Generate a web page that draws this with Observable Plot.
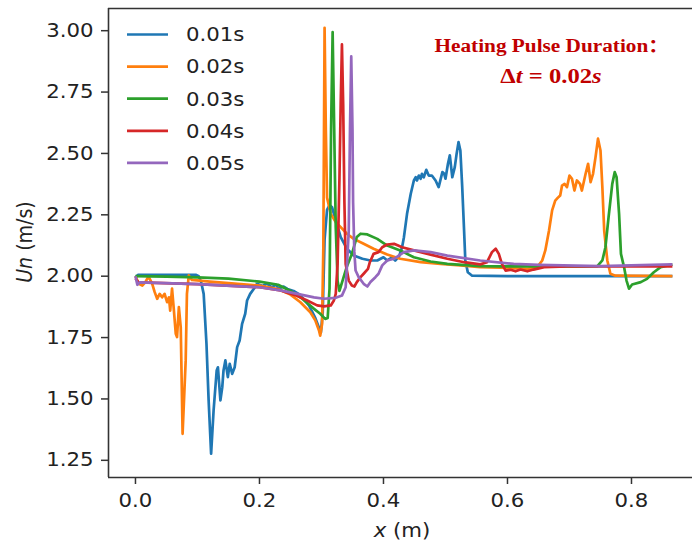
<!DOCTYPE html>
<html>
<head>
<meta charset="utf-8">
<script src="https://cdn.jsdelivr.net/npm/d3@7"></script>
<script src="https://cdn.jsdelivr.net/npm/@observablehq/plot@0.6"></script>
<style>
  html, body { margin: 0; padding: 0; background: #fff; }
  #chart { width: 692px; height: 544px; }
</style>
</head>
<body>
<div id="chart"></div>
<script>
// Normal velocity profiles Un(x) at five instants after a heating pulse
const seriesNames = ["0.01s", "0.02s", "0.03s", "0.04s", "0.05s"];
const seriesColors = ["#1f77b4", "#ff7f0e", "#2ca02c", "#d62728", "#9467bd"];

const xTicks = [0.0, 0.2, 0.4, 0.6, 0.8];
const yTicks = [1.25, 1.50, 1.75, 2.00, 2.25, 2.50, 2.75, 3.00];

// [x (m), Un (m/s)]
const un001 = [[0,1.995],[0.004,2.005],[0.05,2.005],[0.098,2.005],[0.102,2.0],[0.106,1.975],[0.110,1.928],[0.1145,1.726],[0.118,1.494],[0.122,1.277],[0.126,1.453],[0.131,1.616],[0.133,1.629],[0.137,1.494],[0.140,1.548],[0.142,1.616],[0.145,1.657],[0.149,1.589],[0.152,1.643],[0.156,1.602],[0.160,1.629],[0.164,1.711],[0.168,1.738],[0.172,1.806],[0.177,1.847],[0.180,1.901],[0.185,1.928],[0.191,1.949],[0.196,1.969],[0.205,1.96],[0.212,1.97],[0.220,1.955],[0.226,1.966],[0.231,1.95],[0.239,1.958],[0.245,1.948],[0.255,1.94],[0.265,1.925],[0.28,1.88],[0.29,1.83],[0.296,1.79],[0.299,1.77],[0.302,1.85],[0.305,2.15],[0.309,2.27],[0.313,2.29],[0.317,2.281],[0.323,2.227],[0.331,2.159],[0.341,2.112],[0.352,2.084],[0.366,2.071],[0.379,2.064],[0.390,2.064],[0.400,2.077],[0.406,2.064],[0.414,2.077],[0.419,2.064],[0.425,2.08],[0.430,2.118],[0.433,2.159],[0.438,2.254],[0.444,2.336],[0.449,2.39],[0.452,2.403],[0.454,2.39],[0.457,2.410],[0.460,2.397],[0.462,2.417],[0.465,2.403],[0.469,2.433],[0.473,2.41],[0.478,2.41],[0.484,2.39],[0.489,2.363],[0.495,2.424],[0.498,2.417],[0.500,2.397],[0.504,2.458],[0.507,2.492],[0.511,2.403],[0.515,2.444],[0.518,2.499],[0.521,2.546],[0.524,2.512],[0.527,2.363],[0.530,2.186],[0.532,2.064],[0.536,2.016],[0.543,2.002],[0.6,2.0],[0.7,2.0],[0.866,2.0]];

const un002 = [[0,2.0],[0.0054,1.969],[0.011,1.962],[0.016,1.976],[0.021,1.999],[0.027,1.969],[0.031,1.935],[0.035,1.908],[0.039,1.928],[0.043,1.914],[0.047,1.928],[0.051,1.894],[0.054,1.914],[0.056,1.860],[0.059,1.949],[0.062,1.860],[0.065,1.765],[0.067,1.752],[0.070,1.874],[0.073,1.792],[0.076,1.358],[0.081,1.657],[0.083,1.928],[0.086,2.003],[0.091,1.985],[0.12,1.978],[0.15,1.972],[0.2,1.962],[0.23,1.948],[0.25,1.925],[0.266,1.894],[0.282,1.853],[0.29,1.82],[0.296,1.779],[0.298,1.758],[0.301,1.806],[0.303,2.118],[0.305,3.012],[0.307,2.6],[0.309,2.32],[0.315,2.254],[0.323,2.22],[0.331,2.2],[0.341,2.173],[0.352,2.152],[0.368,2.132],[0.384,2.112],[0.406,2.088],[0.427,2.071],[0.460,2.057],[0.492,2.050],[0.524,2.044],[0.556,2.037],[0.589,2.035],[0.632,2.030],[0.648,2.037],[0.656,2.064],[0.661,2.105],[0.667,2.186],[0.672,2.268],[0.677,2.308],[0.681,2.319],[0.685,2.329],[0.688,2.369],[0.692,2.376],[0.696,2.363],[0.700,2.410],[0.704,2.397],[0.708,2.349],[0.712,2.390],[0.717,2.376],[0.720,2.349],[0.726,2.417],[0.730,2.458],[0.734,2.383],[0.738,2.417],[0.742,2.485],[0.746,2.560],[0.750,2.512],[0.753,2.363],[0.756,2.186],[0.761,2.064],[0.766,2.010],[0.774,2.002],[0.866,2.0]];

const un003 = [[0,2.0],[0.05,1.998],[0.1,1.995],[0.15,1.99],[0.2,1.978],[0.23,1.965],[0.25,1.94],[0.266,1.914],[0.288,1.867],[0.298,1.847],[0.306,1.826],[0.310,1.83],[0.313,1.95],[0.3155,2.6],[0.318,2.994],[0.3205,2.6],[0.323,2.2],[0.326,1.98],[0.329,1.94],[0.341,2.04],[0.349,2.09],[0.357,2.16],[0.363,2.173],[0.374,2.170],[0.390,2.152],[0.406,2.125],[0.427,2.105],[0.449,2.077],[0.476,2.06],[0.503,2.050],[0.556,2.041],[0.589,2.040],[0.642,2.040],[0.723,2.040],[0.745,2.041],[0.753,2.064],[0.758,2.118],[0.763,2.240],[0.769,2.376],[0.773,2.424],[0.776,2.403],[0.780,2.254],[0.783,2.091],[0.788,2.037],[0.792,1.982],[0.796,1.949],[0.801,1.966],[0.815,1.976],[0.825,1.989],[0.836,2.016],[0.847,2.037],[0.866,2.048]];

const un004 = [[0,1.99],[0.005,1.975],[0.1,1.968],[0.2,1.955],[0.234,1.942],[0.26,1.92],[0.277,1.901],[0.293,1.881],[0.304,1.877],[0.315,1.881],[0.320,1.901],[0.323,1.928],[0.326,2.05],[0.329,2.4],[0.331,2.7],[0.333,2.944],[0.335,2.7],[0.337,2.3],[0.339,2.05],[0.344,1.982],[0.349,1.962],[0.353,1.958],[0.357,1.976],[0.363,1.996],[0.368,2.010],[0.375,2.030],[0.378,2.057],[0.384,2.091],[0.392,2.098],[0.398,2.118],[0.406,2.129],[0.417,2.132],[0.430,2.118],[0.449,2.105],[0.476,2.088],[0.503,2.071],[0.530,2.057],[0.556,2.048],[0.567,2.057],[0.575,2.098],[0.581,2.112],[0.586,2.091],[0.591,2.050],[0.597,2.023],[0.605,2.026],[0.613,2.020],[0.621,2.027],[0.632,2.020],[0.642,2.027],[0.659,2.037],[0.696,2.040],[0.866,2.04]];

const un005 = [[0,2.0],[0.003,1.965],[0.007,1.975],[0.1,1.968],[0.2,1.955],[0.234,1.942],[0.261,1.928],[0.288,1.914],[0.304,1.908],[0.323,1.912],[0.333,1.921],[0.339,1.955],[0.341,2.037],[0.344,2.186],[0.346,2.6],[0.348,2.895],[0.350,2.6],[0.351,2.3],[0.353,2.1],[0.355,2.023],[0.360,1.996],[0.368,1.969],[0.374,1.958],[0.379,1.976],[0.387,1.996],[0.392,2.010],[0.398,2.044],[0.406,2.064],[0.417,2.071],[0.433,2.098],[0.449,2.105],[0.476,2.098],[0.503,2.084],[0.556,2.064],[0.610,2.050],[0.65,2.046],[0.75,2.041],[0.866,2.048]];

const profiles = [un001, un002, un003, un004, un005];

// Long-format table for Plot
const rows = profiles.flatMap((pts, i) =>
  pts.map(([x, u]) => ({series: seriesNames[i], x, u}))
);

// Axis limits (the right spine falls just outside the figure)
const xDomain = [-0.0435, 0.8984];
const yDomain = [1.18, 3.0904];

const axisInk = "#333";
const font = "DejaVu Sans, sans-serif";
const textStretch = 1.12;   // glyphs are set slightly wide

const chart = Plot.plot({
  width: 692,
  height: 544,
  marginLeft: 108,
  marginRight: 0,
  marginTop: 8,
  marginBottom: 67,
  style: {fontFamily: font, fontSize: "19px", color: "#222", background: "#fff"},
  x: {domain: xDomain},
  y: {domain: yDomain},
  color: {domain: seriesNames, range: seriesColors},
  marks: [
    Plot.line(rows, {
      x: "x", y: "u", z: "series", stroke: "series",
      strokeWidth: 2.7, strokeLinejoin: "round", strokeLinecap: "butt", curve: "linear"
    }),
    Plot.ruleX([xDomain[0]], {stroke: axisInk, strokeWidth: 1.6}),
    Plot.ruleY(yDomain, {stroke: axisInk, strokeWidth: 1.6}),
    Plot.axisX({ticks: xTicks, tickFormat: d3.format(".1f"), tickSize: 7, tickPadding: 9,
                stroke: axisInk, strokeWidth: 1.5, label: null, fontSize: 19}),
    Plot.axisY({ticks: yTicks, tickFormat: d3.format(".2f"), tickSize: 7, tickPadding: 8,
                stroke: axisInk, strokeWidth: 1.5, label: null, fontSize: 19})
  ]
});

document.getElementById("chart").appendChild(chart);

// Widen a text element horizontally about its own anchor (its x attribute)
function widen(node, k = textStretch) {
  const x = parseFloat(node.getAttribute("x"));
  const ax = Number.isFinite(x) ? x : 0;
  const t = node.getAttribute("transform") || "";
  node.setAttribute("transform",
    `${t} translate(${ax},0) scale(${k},1) translate(${-ax},0)`);
}
chart.querySelectorAll("text").forEach(n => widen(n));

const svg = d3.select(chart);

// Legend (upper left, no frame)
const legend = svg.append("g")
  .attr("font-family", font).attr("font-size", 19).attr("fill", "#222")
  .attr("text-anchor", "start");
seriesNames.forEach((name, i) => {
  const y = 34.5 + i * 32.1;
  legend.append("line")
    .attr("x1", 127).attr("x2", 168).attr("y1", y).attr("y2", y)
    .attr("stroke", seriesColors[i]).attr("stroke-width", 2.7);
  const t = legend.append("text")
    .attr("x", 186).attr("y", y).attr("dy", "0.36em")
    .text(name);
  widen(t.node());
});

// Axis titles
const xTitle = svg.append("text")
  .attr("x", 402).attr("y", 537)
  .attr("text-anchor", "middle")
  .attr("font-family", font).attr("font-size", 19).attr("fill", "#222");
xTitle.append("tspan").attr("font-style", "italic").text("x");
xTitle.append("tspan").text(" (m)");
widen(xTitle.node());

const yTitle = svg.append("text")
  .attr("transform", `translate(31.5,242) scale(${textStretch},1) rotate(-90)`)
  .attr("text-anchor", "middle")
  .attr("font-family", font).attr("font-size", 19).attr("fill", "#222");
yTitle.append("tspan").attr("font-style", "italic").text("Un");
yTitle.append("tspan").text(" (m/s)");

// Pulse-duration annotation
const note = svg.append("g")
  .attr("font-family", "Liberation Serif, Times New Roman, serif")
  .attr("font-weight", "bold").attr("fill", "#c00000");
const head = note.append("text")
  .attr("x", 434.5).attr("y", 52.3).attr("font-size", 19).attr("text-anchor", "start");
head.append("tspan").text("Heating Pulse Duration");
head.append("tspan").attr("font-family", "Noto Sans CJK SC").attr("font-size", 18).text("：");
widen(head.node());

const eq = note.append("text")
  .attr("x", 551).attr("y", 83.3).attr("font-size", 22).attr("text-anchor", "middle");
eq.append("tspan").text("Δ");
eq.append("tspan").attr("font-style", "italic").text("t");
eq.append("tspan").text(" = 0.02");
eq.append("tspan").attr("font-style", "italic").text("s");
widen(eq.node());
</script>
</body>
</html>
